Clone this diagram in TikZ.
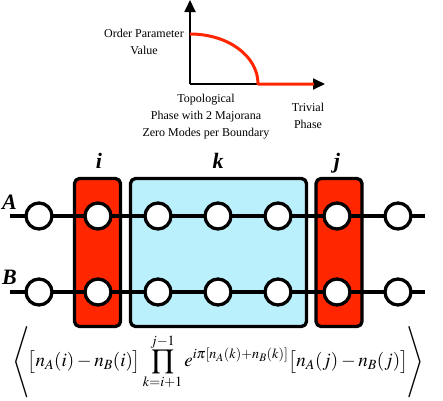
\documentclass[tikz,border=0pt]{standalone}
\usepackage{amsmath}
\usepackage{graphicx}
\usepackage{mathptmx}
\usepackage{fontspec}
\setmainfont{Liberation Serif}
\newfontfamily\timesfont{Liberation Serif}
\usetikzlibrary{arrows.meta}
\definecolor{sitered}{RGB}{255,38,0}
\definecolor{sitecyan}{RGB}{186,240,252}
\newcommand{\bigangle}[1]{\vcenter{\hbox{\scalebox{1.15}[1.25]{$#1$}}}}
\tikzset{
  site/.style={circle, draw=black, fill=white, line width=3.3pt, minimum size=26pt, inner sep=0pt},
  chainline/.style={line width=3.4pt},
  redbox/.style={draw=black, fill=sitered, line width=3.3pt, rounded corners=5pt, minimum width=46pt, minimum height=148pt, inner sep=0pt},
  cyanbox/.style={redbox, fill=sitecyan, minimum width=176pt},
  boxlabel/.style={font=\timesfont\fontsize{22}{22}\selectfont\bfseries\itshape, inner sep=0pt},
  caption/.style={font=\timesfont\fontsize{12}{17}\selectfont, align=center, inner sep=0pt},
  axis/.style={line width=1.8pt, -{Triangle[length=12pt,width=11pt]}}
}
\begin{document}
\begin{tikzpicture}[x=1pt, y=-1pt, line join=round]
  \useasboundingbox (0,0) rectangle (443,400);
  % phase diagram
  \def\ox{190} \def\oy{84}
  \coordinate (O) at (\ox,\oy);
  \coordinate (ytop) at (\ox,0);
  \coordinate (xend) at (325,\oy);
  \draw[axis] (O) -- (ytop);
  \draw[axis] (O) -- (xend);
  \coordinate (c0) at (\ox,34);
  \coordinate (c1) at (258,\oy);
  \coordinate (c2) at (314,\oy);
  \draw[sitered, line width=3pt] (c0) .. controls (228,34) and (258,56) .. (c1) -- (c2);
  \node[caption, anchor=east] (order) at (184,41.5) {Order Parameter\\Value};
  \node[caption] (topo) at (206,117) {Topological\\Phase with 2 Majorana\\Zero Modes per Boundary};
  \node[caption] (triv) at (308,115.5) {Trivial\\Phase};
  % boxes
  \node[redbox] (boxi) at (97.5,252.5) {};
  \node[cyanbox] (boxk) at (218.5,252.5) {};
  \node[redbox] (boxj) at (339,252.5) {};
  \node[boxlabel, anchor=base] (labi) at (99,168) {i};
  \node[boxlabel, anchor=base] (labk) at (218,168) {k};
  \node[boxlabel, anchor=base] (labj) at (337,168) {j};
  % chains
  \foreach \r/\y in {A/216, B/292}{
    \coordinate (\r l) at (10,\y);
    \coordinate (\r r) at (425,\y);
    \draw[chainline] (\r l) -- (\r r);
    \foreach \n/\x in {1/39, 2/98, 3/158, 4/218, 5/278, 6/337, 7/398}
      \node[site] (\r\n) at (\x,\y) {};
  }
  \node[boxlabel, anchor=base west] (labA) at (2,209) {A};
  \node[boxlabel, anchor=base west] (labB) at (2,284) {B};
  % correlator
  \node[inner sep=0pt] (corr) at (218,362) {\fontsize{19}{22}\selectfont
    $\displaystyle\bigangle{\Biggl\langle}\!\bigl[n_A(i)-n_B(i)\bigr]\prod_{k=i+1}^{j-1}e^{i\pi[n_A(k)+n_B(k)]}\bigl[n_A(j)-n_B(j)\bigr]\!\bigangle{\Biggr\rangle}$};
\end{tikzpicture}
\end{document}
